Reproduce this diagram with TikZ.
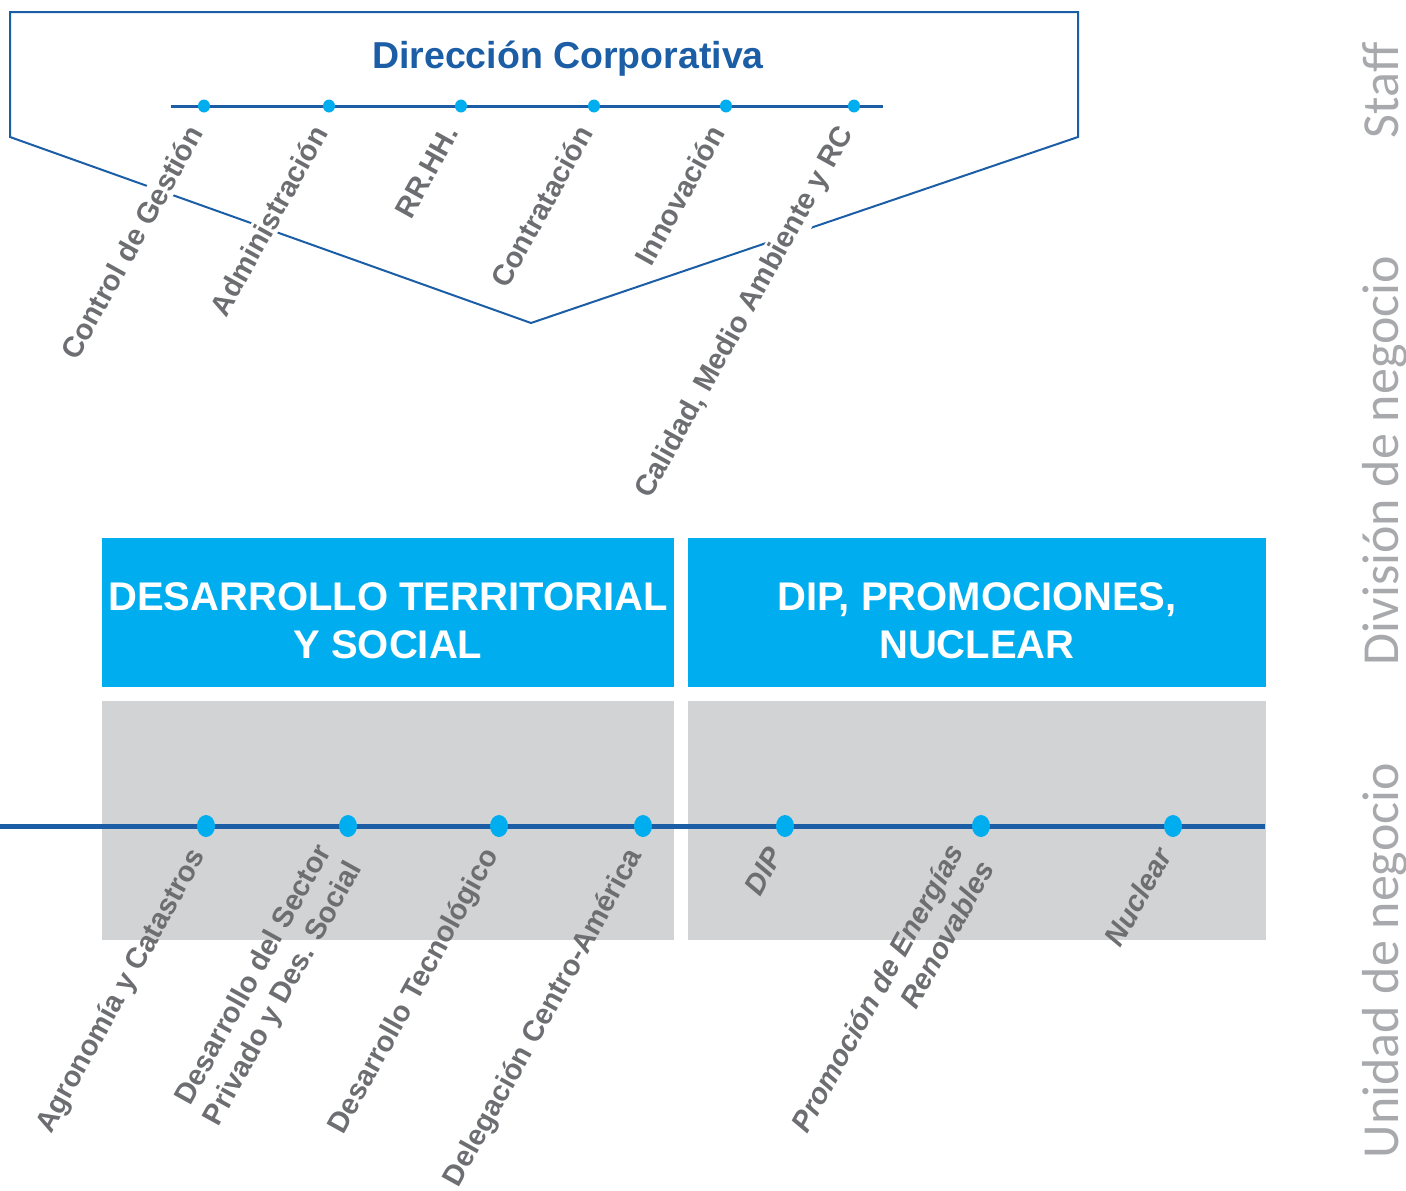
\documentclass[tikz,border=0pt]{standalone}
\usepackage{fontspec}
\setmainfont{Liberation Sans}
\newfontfamily\condfont{Carlito}
\usetikzlibrary{shapes,positioning}

\definecolor{azulosc}{HTML}{1B5EA6}
\definecolor{celeste}{HTML}{00AEEF}
\definecolor{grisbox}{HTML}{D1D3D4}
\definecolor{gristxt}{HTML}{6D6E71}
\definecolor{grisclaro}{HTML}{A7A9AC}

\begin{document}
\begin{tikzpicture}[x=1pt,y=-1pt]
\tikzstyle{every node}=[inner sep=0pt,outer sep=0pt]
\tikzstyle{punto}=[ellipse,fill=celeste,minimum width=12pt,minimum height=13pt]
\tikzstyle{puntog}=[ellipse,fill=celeste,minimum width=18pt,minimum height=22pt]
\tikzstyle{etq}=[rotate=61,anchor=north east,text=gristxt,inner sep=3pt,
  font=\bfseries\fontsize{29}{35}\selectfont,align=right]
\tikzstyle{etqs}=[etq,fill=white]
\tikzstyle{etqi}=[etq,font=\bfseries\itshape\fontsize{29}{35}\selectfont]
\tikzstyle{divbox}=[fill=celeste,minimum height=149pt]
\tikzstyle{divtxt}=[text=white,align=center,font=\bfseries\fontsize{40}{48}\selectfont]
\tikzstyle{unibox}=[fill=grisbox,minimum height=239pt]
\tikzstyle{nivel}=[rotate=90,anchor=base west,text=grisclaro,font=\condfont\fontsize{52}{60}\selectfont]

\useasboundingbox (0,0) rectangle (1406,1191);

% staff
\draw[azulosc,line width=2pt] (10,12) -- (1078,12) -- (1078,137) -- (531,323) -- (10,137) -- cycle;
\node[text=azulosc,anchor=base,font=\bfseries\fontsize{37.5}{40}\selectfont] (dc) at (568,68) {Dirección Corporativa};
\coordinate (s0) at (171,106);
\coordinate (s7) at (883,106);
\draw[azulosc,line width=3pt] (s0) -- (s7);
\node[punto] (s1) at (204,106) {};
\node[punto] (s2) at (329,106) {};
\node[punto] (s3) at (461,106) {};
\node[punto] (s4) at (594,106) {};
\node[punto] (s5) at (726,106) {};
\node[punto] (s6) at (854,106) {};
\node[etqs] (cg) at ([xshift=-20pt,yshift=-13pt]s1.center) {Control de Gestión};
\node[etqs] (ad) at ([xshift=-20pt,yshift=-13pt]s2.center) {Administración};
\node[etqs] (rh) at ([xshift=-20pt,yshift=-13pt]s3.center) {RR.HH.};
\node[etqs] (co) at ([xshift=-20pt,yshift=-13pt]s4.center) {Contratación};
\node[etqs] (in) at ([xshift=-20pt,yshift=-13pt]s5.center) {Innovación};
\node[etqs] (ca) at ([xshift=-20pt,yshift=-13pt]s6.center) {Calidad, Medio Ambiente y RC};

% divisiones
\node[divbox,minimum width=572pt] (dts) at (388,612.5) {};
\node[divbox,minimum width=578pt] (dpn) at (977,612.5) {};
\node[divtxt] (dtst) at ([yshift=-8pt]dts.center) {DESARROLLO TERRITORIAL\\Y SOCIAL};
\node[divtxt] (dpnt) at ([yshift=-8pt]dpn.center) {DIP, PROMOCIONES,\\NUCLEAR};
\node[unibox,minimum width=572pt] (u1) at (388,820.5) {};
\node[unibox,minimum width=578pt] (u2) at (977,820.5) {};

% unidades
\coordinate (b0) at (0,826);
\coordinate (b8) at (1265,826);
\draw[azulosc,line width=5pt] (b0) -- (b8);
\node[puntog] (b1) at (206,826) {};
\node[puntog] (b2) at (348,826) {};
\node[puntog] (b3) at (499,826) {};
\node[puntog] (b4) at (643,826) {};
\node[puntog] (b5) at (785,826) {};
\node[puntog] (b6) at (981,826) {};
\node[puntog] (b7) at (1173,826) {};
\node[etq] (ag) at ([xshift=-20pt,yshift=-15pt]b1.center) {Agronomía y Catastros};
\node[etq] (dsp) at ([xshift=-36pt,yshift=-11pt]b2.center) {Desarrollo del Sector\\Privado y Des. Social};
\node[etq] (dt) at ([xshift=-20pt,yshift=-15pt]b3.center) {Desarrollo Tecnológico};
\node[etq] (dca) at ([xshift=-20pt,yshift=-15pt]b4.center) {Delegación Centro-América};
\node[etqi] (dip) at ([xshift=-20pt,yshift=-15pt]b5.center) {DIP};
\node[etqi] (per) at ([xshift=-36pt,yshift=-11pt]b6.center) {Promoción de Energías\\Renovables};
\node[etqi] (nu) at ([xshift=-20pt,yshift=-15pt]b7.center) {Nuclear};

% niveles
\node[nivel] (st) at (1398,138) {Staff};
\node[nivel] (dn) at (1398,665) {División de negocio};
\node[nivel] (un) at (1398,1158) {Unidad de negocio};
\end{tikzpicture}
\end{document}
